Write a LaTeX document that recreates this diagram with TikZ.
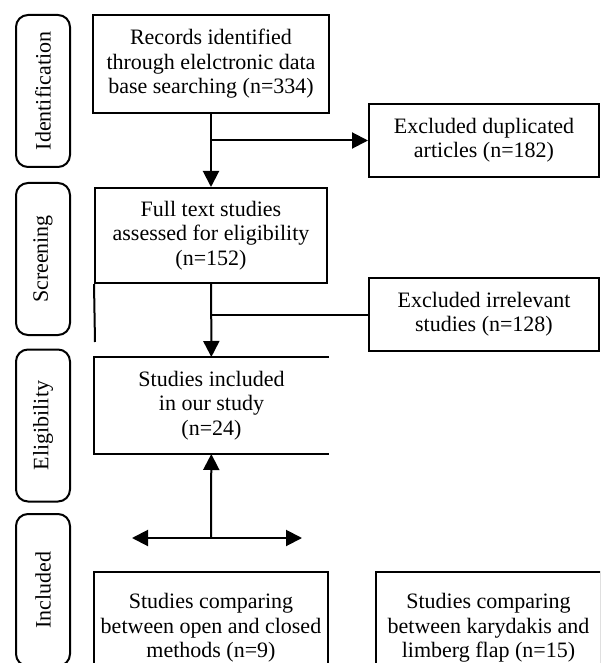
\documentclass[tikz,border=0pt]{standalone}
\usepackage{fontspec}
\setmainfont{Liberation Serif}
\usetikzlibrary{arrows.meta}

\begin{document}
\begin{tikzpicture}[x=0.5pt, y=-0.5pt,
  font=\fontsize{11pt}{12.2pt}\selectfont,
  stagebox/.style={draw, line width=1pt, rounded corners=6pt, rotate=90, minimum width=76pt, minimum height=27pt, inner sep=0pt},
  flowbox/.style={draw, line width=1pt, align=center, inner sep=0pt},
  flowline/.style={line width=1pt},
  flowarrow/.style={line width=1pt, -{Triangle[length=8pt, width=8pt]}}]
  \useasboundingbox (0,0) rectangle (600,663);
  \clip (0,0) rectangle (600,663);
  % stages
  \node[stagebox] (ident) at (43,91) {Identification};
  \node[stagebox] (screen) at (43,259) {Screening};
  \node[stagebox] (elig) at (43,425.5) {Eligibility};
  \node[stagebox] (incl) at (43,590) {Included};
  % boxes
  \node[flowbox, minimum width=118pt, minimum height=49pt] (rec) at (211,64) {Records identified\\through elelctronic data\\base searching (n=334)};
  \node[flowbox, minimum width=115pt, minimum height=36.5pt] (dup) at (484,140.5) {Excluded duplicated\\articles (n=182)};
  \node[flowbox, minimum width=116pt, minimum height=47.5pt] (full) at (211,235.5) {Full text studies\\assessed for eligibility\\(n=152)};
  \node[flowbox, minimum width=115pt, minimum height=36.5pt] (irr) at (484,314.5) {Excluded irrelevant\\studies (n=128)};
  \node[flowbox, draw=none, minimum width=116.5pt, minimum height=47.5pt] (kept) at (211.5,405.5) {Studies included\\in our study\\(n=24)};
  \node[flowbox, minimum width=117pt, minimum height=56pt] (openbox) at (211,628) {Studies comparing\\between open and closed\\methods (n=9)};
  \node[flowbox, minimum width=112.5pt, minimum height=56pt] (flapbox) at (488.5,628) {Studies comparing\\between karydakis and\\limberg flap (n=15)};
  \draw[flowline] (kept.north east) -- (kept.north west) -- (kept.south west) -- (kept.south east);
  % connectors
  \coordinate (dupsplit) at (rec.south |- dup.west);
  \coordinate (irrsplit) at (full.south |- irr.west);
  \coordinate (stubend) at (95,342);
  \coordinate (fork) at (211,538);
  \coordinate (forkleft) at (132,538);
  \coordinate (forkright) at (302,538);
  \draw[flowarrow] (rec) -- (full);
  \draw[flowarrow] (dupsplit) -- (dup.west);
  \draw[flowarrow] (full) -- (kept);
  \draw[flowline] (irrsplit) -- (irr.west);
  \draw[flowline] (full.south west) -- (stubend);
  \draw[flowarrow] (fork) -- (kept);
  \draw[flowline, {Triangle[length=8pt, width=8pt]}-{Triangle[length=8pt, width=8pt]}] (forkleft) -- (forkright);
\end{tikzpicture}
\end{document}
